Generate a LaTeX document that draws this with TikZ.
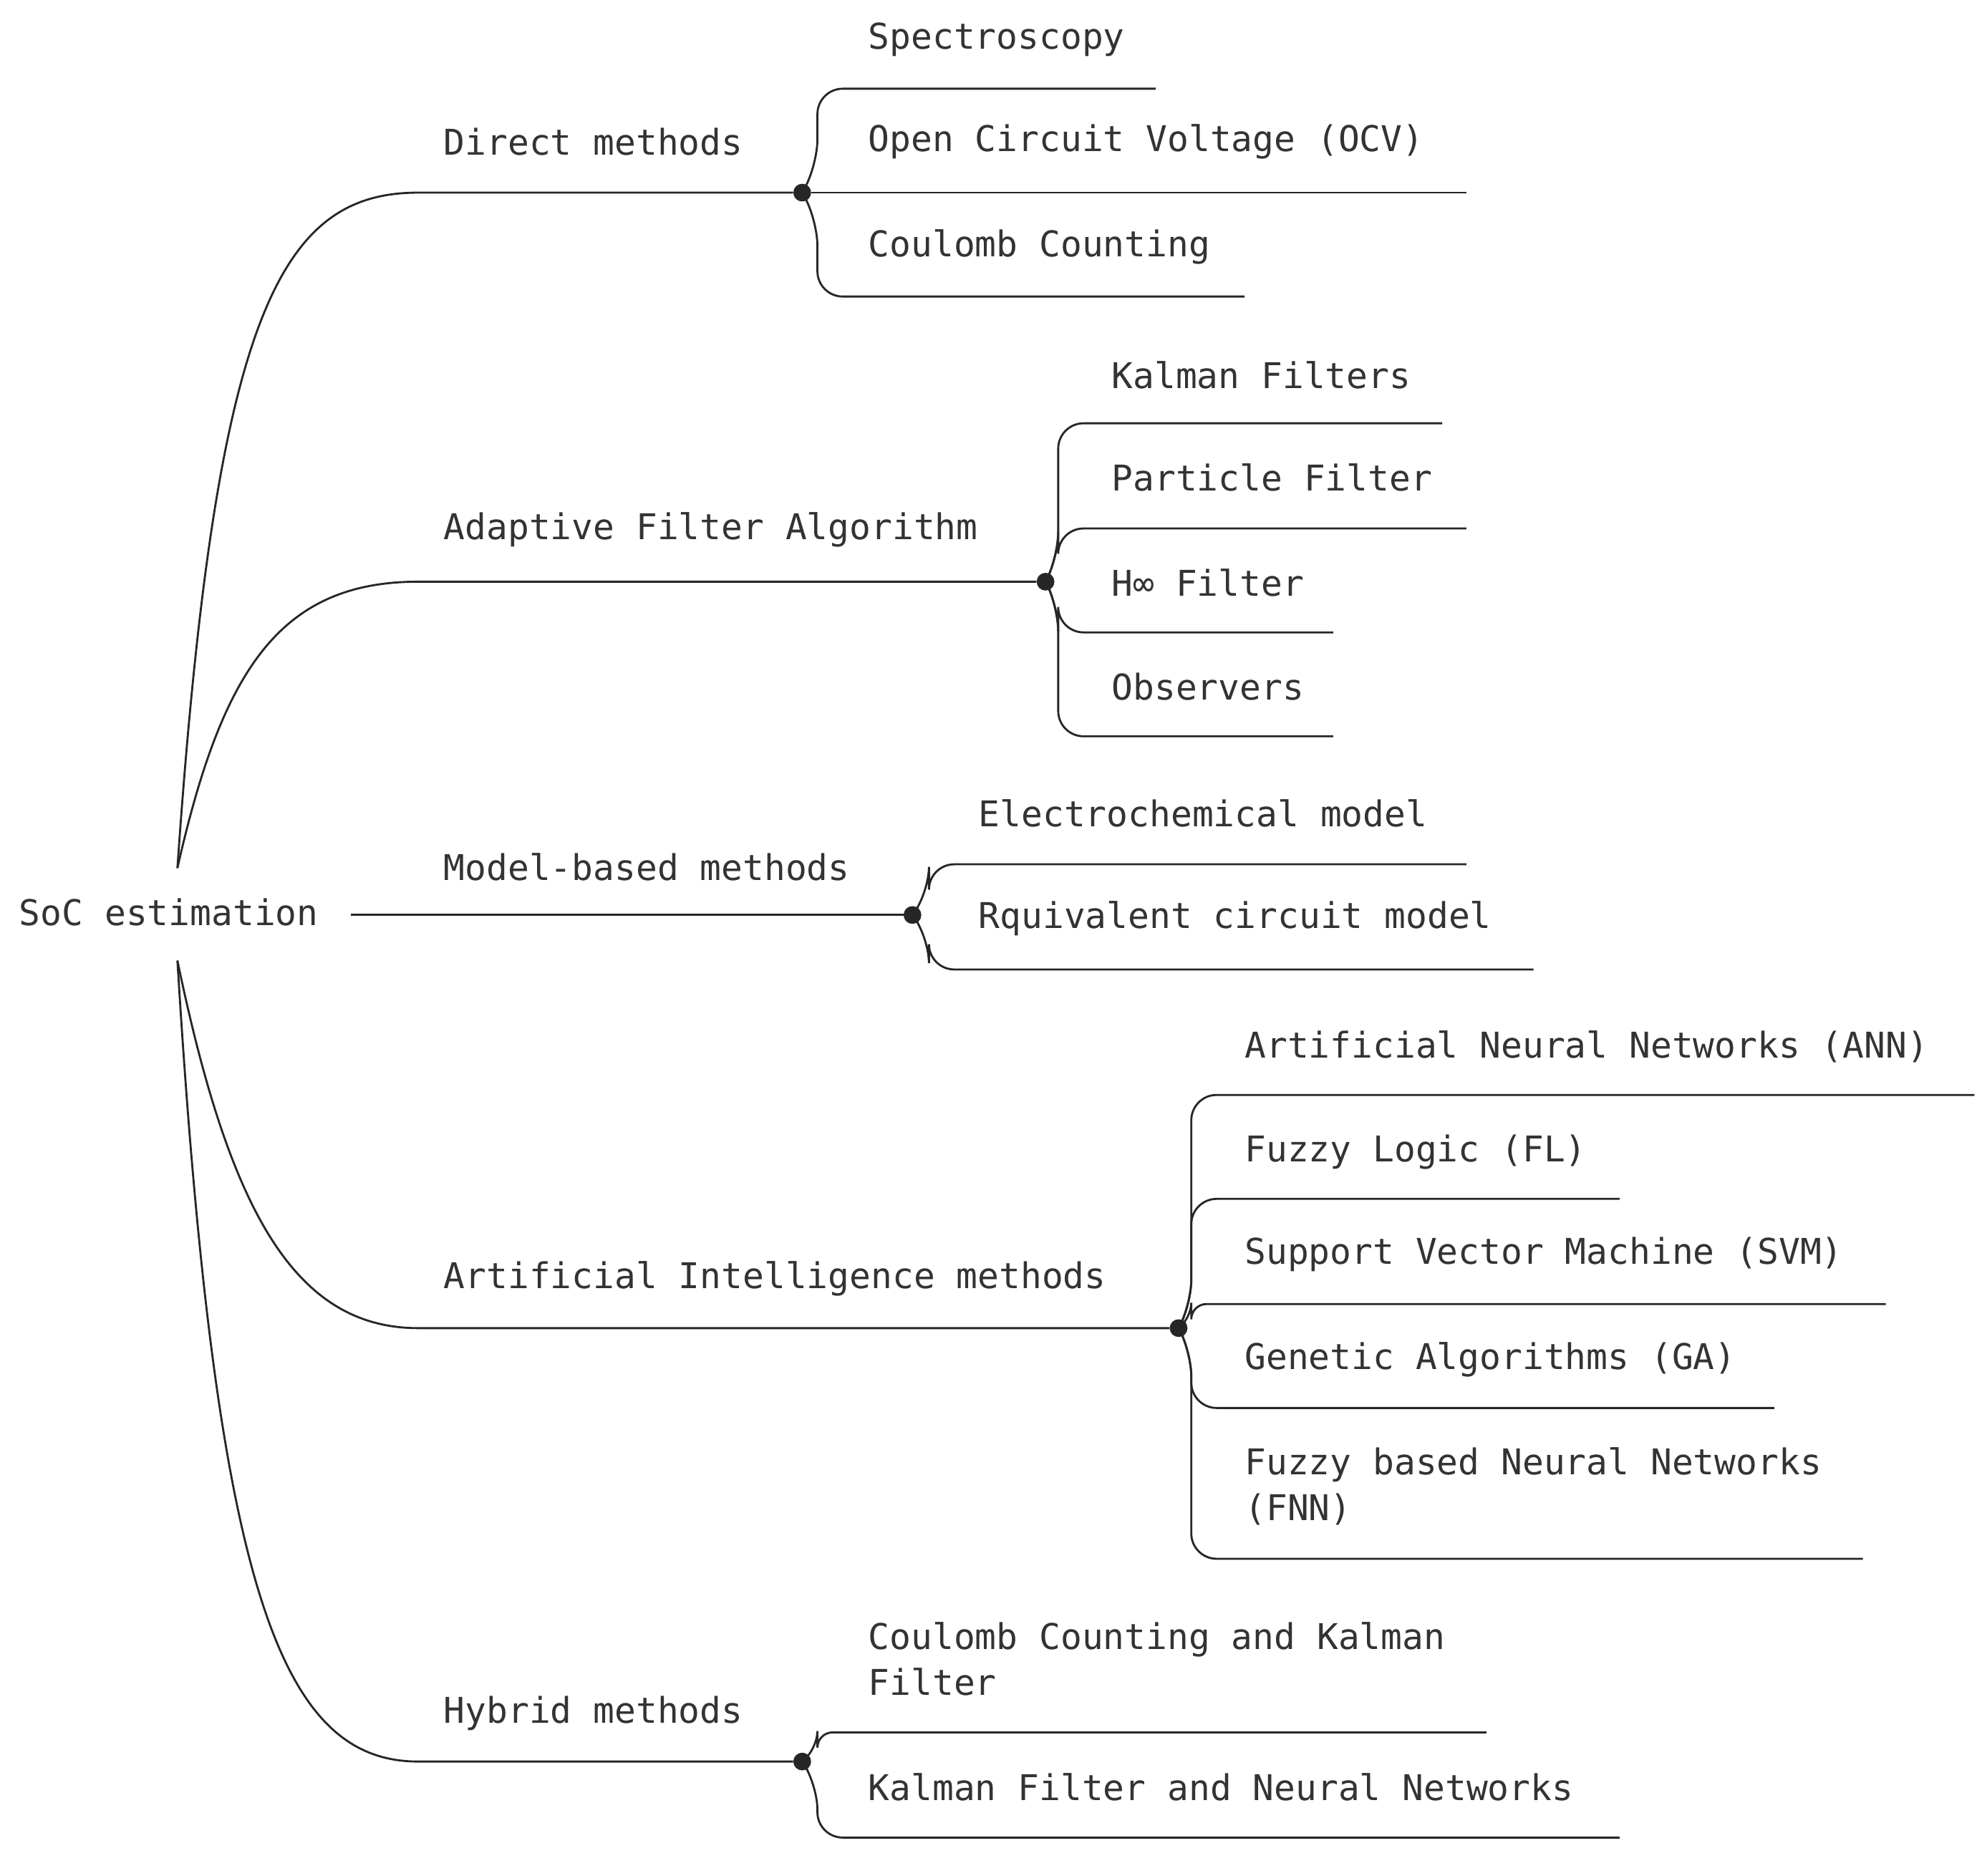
\documentclass[tikz,border=0pt]{standalone}
\usepackage{fontspec}
\setmonofont{DejaVu Sans Mono}
\begin{document}
\begin{tikzpicture}[x=1pt,y=-1pt,
  lbl/.style={anchor=west,inner sep=0pt,font=\ttfamily\fontsize{28}{36}\selectfont,text=black!80,align=left},
  ln/.style={draw=black!85,line width=1.6pt},
  dot/.style={circle,fill=black!85,inner sep=0pt,minimum size=14pt}]
\useasboundingbox (0,0) rectangle (1560,1480);
\node[lbl] (root) at (15,720) {SoC estimation};
\coordinate (rt) at (140,685);
\coordinate (rb) at (140,758);
\coordinate (rm) at (277,722);
% macro for a child with underline
\newcommand\kid[6]{% name, dot, vx, liney, endx, text pos/label
  \coordinate (#1e) at (#5,#4);
  \draw[ln,rounded corners=18] (#2) -- ([xshift=12pt]#2 |- 0,#4+0) -- (#3,#4) -- (#1e);}
% Direct
\node[lbl] (d) at (350,112) {Direct methods};
\node[dot] (dd) at (633,152) {};
\draw[ln] (rt) .. controls (170,250) and (220,152) .. (330,152) -- (dd);
\node[lbl] (d1) at (685,31) {Spectroscopy};
\node[lbl] (d2) at (685,112) {Open Circuit Voltage (OCV)};
\node[lbl] (d3) at (685,195) {Coulomb Counting};
\coordinate (d1e) at (912,70); \coordinate (d2e) at (1157,152); \coordinate (d3e) at (982,234);
\draw[ln,rounded corners=20] (dd) -- (645,130) -- (645,70) -- (d1e);
\draw[ln] (dd) -- (d2e);
\draw[ln,rounded corners=20] (dd) -- (645,174) -- (645,234) -- (d3e);
% Adaptive
\node[lbl] (a) at (350,418) {Adaptive Filter Algorithm};
\node[dot] (ad) at (825,459) {};
\draw[ln] (rt) .. controls (175,530) and (220,459) .. (330,459) -- (ad);
\node[lbl] at (877,296) {Kalman Filters};
\node[lbl] at (877,377) {Particle Filter};
\node[lbl] at (877,460) {H∞ Filter};
\node[lbl] at (877,542) {Observers};
\coordinate (a1e) at (1138,334); \coordinate (a2e) at (1157,417); \coordinate (a3e) at (1052,499); \coordinate (a4e) at (1052,581);
\draw[ln,rounded corners=20] (ad) -- (835,440) -- (835,334) -- (a1e);
\draw[ln,rounded corners=20] (ad) -- (835,440) -- (835,417) -- (a2e);
\draw[ln,rounded corners=20] (ad) -- (835,478) -- (835,499) -- (a3e);
\draw[ln,rounded corners=20] (ad) -- (835,478) -- (835,581) -- (a4e);
% Model
\node[lbl] at (350,684) {Model-based methods};
\node[dot] (md) at (720,722) {};
\draw[ln] (rm) -- (md);
\node[lbl] at (772,642) {Electrochemical model};
\node[lbl] at (772,725) {Rquivalent circuit model};
\coordinate (m1e) at (1157,682); \coordinate (m2e) at (1210,765);
\draw[ln,rounded corners=20] (md) -- (733,704) -- (733,682) -- (m1e);
\draw[ln,rounded corners=20] (md) -- (733,740) -- (733,765) -- (m2e);
% AI
\node[lbl] at (350,1009) {Artificial Intelligence methods};
\node[dot] (id) at (930,1048) {};
\draw[ln] (rb) .. controls (180,950) and (230,1048) .. (330,1048) -- (id);
\node[lbl] at (982,826) {Artificial Neural Networks (ANN)};
\node[lbl] at (982,909) {Fuzzy Logic (FL)};
\node[lbl] at (982,990) {Support Vector Machine (SVM)};
\node[lbl] at (982,1073) {Genetic Algorithms (GA)};
\node[lbl] at (982,1173) {Fuzzy based Neural Networks\\(FNN)};
\coordinate (i1e) at (1558,864); \coordinate (i2e) at (1278,946); \coordinate (i3e) at (1488,1029); \coordinate (i4e) at (1400,1111); \coordinate (i5e) at (1470,1230);
\draw[ln,rounded corners=20] (id) -- (940,1030) -- (940,864) -- (i1e);
\draw[ln,rounded corners=20] (id) -- (940,1030) -- (940,946) -- (i2e);
\draw[ln,rounded corners=12] (id) -- (940,1040) -- (940,1029) -- (i3e);
\draw[ln,rounded corners=20] (id) -- (940,1066) -- (940,1111) -- (i4e);
\draw[ln,rounded corners=20] (id) -- (940,1066) -- (940,1230) -- (i5e);
% Hybrid
\node[lbl] at (350,1352) {Hybrid methods};
\node[dot] (hd) at (633,1390) {};
\draw[ln] (rb) .. controls (170,1250) and (220,1390) .. (330,1390) -- (hd);
\node[lbl] at (685,1309) {Coulomb Counting and Kalman\\Filter};
\node[lbl] at (685,1410) {Kalman Filter and Neural Networks};
\coordinate (h1e) at (1173,1367); \coordinate (h2e) at (1278,1450);
\draw[ln,rounded corners=12] (hd) -- (645,1378) -- (645,1367) -- (h1e);
\draw[ln,rounded corners=20] (hd) -- (645,1408) -- (645,1450) -- (h2e);
\end{tikzpicture}
\end{document}
